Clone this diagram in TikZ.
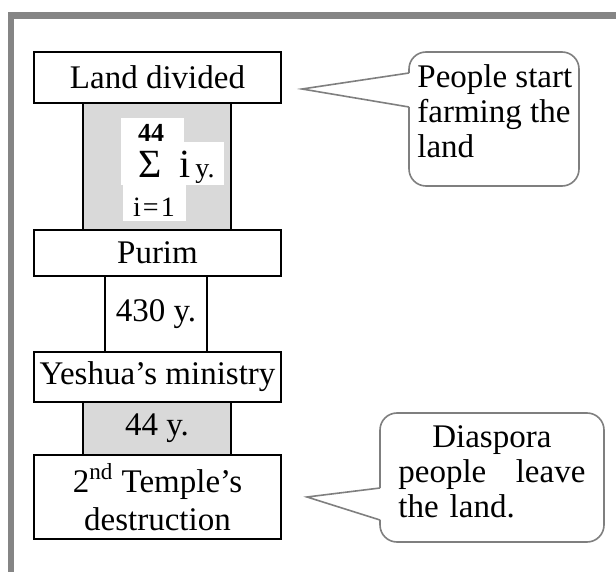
\documentclass[tikz,border=0pt]{standalone}
\usepackage{fontspec}
\setmainfont{Liberation Serif}
\definecolor{framegray}{HTML}{858585}
\definecolor{spangray}{HTML}{D9D9D9}
\definecolor{bubblegray}{HTML}{7F7F7F}
\begin{document}
\begin{tikzpicture}[x=0.5pt,y=-0.5pt,
  event/.style={draw,line width=1pt,fill=white,minimum width=123.5pt,inner sep=0pt,
    font=\fontsize{16.5}{19}\selectfont,align=center},
  span/.style={draw,line width=1pt,fill=spangray,inner sep=0pt,font=\fontsize{16.5}{19}\selectfont},
  bubble/.style={draw=bubblegray,line width=0.8pt,fill=white,rounded corners=8.5pt},
  note/.style={font=\fontsize{16.5}{17.5}\selectfont,align=left,inner sep=0pt,anchor=north west}]
  \useasboundingbox (0,0) rectangle (616,572);
  % page frame
  \fill[framegray] (8,12) rectangle (616,19);
  \fill[framegray] (8,12) rectangle (14,572);
  % time spans
  \node[span,minimum width=74pt,minimum height=63.5pt] (sum) at (157,166.5) {};
  \fill[white] (121,118) rectangle (184,142);
  \fill[white] (121,142) rectangle (224,185);
  \fill[white] (123,185) rectangle (186,221);
  \node[anchor=base,inner sep=0pt,font=\fontsize{13}{13}\selectfont\bfseries] (upper) at (151,142) {44};
  \node[anchor=base,inner sep=0pt,font=\fontsize{20}{20}\selectfont] (sigma) at (150.5,178) {Σ};
  \node[anchor=base,inner sep=0pt,font=\fontsize{20}{20}\selectfont] (idx) at (185,178) {i};
  \node[anchor=base west,inner sep=0pt,font=\fontsize{14}{14}\selectfont] (yrs) at (195,178) {y.};
  \node[anchor=base,inner sep=0pt,font=\fontsize{14}{14}\selectfont] (lower) at (154,217) {i\kern1pt=\kern1pt1};
  \node[span,fill=white,minimum width=51pt,minimum height=38pt] (span2) at (156,314) {430 y.};
  \node[span,minimum width=74pt,minimum height=26.5pt] (span3) at (157,428.5) {44 y.};
  % events
  \node[event,minimum height=25.5pt] (land) at (157.5,77.5) {Land divided};
  \node[event,minimum height=23pt] (purim) at (157.5,253) {Purim};
  \node[event,minimum height=25pt] (yeshua) at (157.5,377) {Yeshua’s ministry};
  \node[event,minimum height=42pt] (temple) at (157.5,497) {2\textsuperscript{nd} Temple’s\\destruction};
  % callouts
  \draw[bubble] (409,52) rectangle (579,186);
  \fill[white] (410.5,73) -- (302,89) -- (410.5,107) -- cycle;
  \draw[bubblegray,line width=0.8pt] (409,73) -- (302,89) -- (409,107);
  \node[note] (farm) at (417,64) {People start\\farming the\\land};
  \draw[bubble] (380,413) rectangle (604,542);
  \fill[white] (381.5,488) -- (307,497) -- (381.5,520) -- cycle;
  \draw[bubblegray,line width=0.8pt] (380,488) -- (307,497) -- (380,520);
  \node[note,text width=93.5pt] (leave) at (398,425)
    {\makebox[93.5pt]{Diaspora}\\people\hfill leave\\the land.};
\end{tikzpicture}
\end{document}
